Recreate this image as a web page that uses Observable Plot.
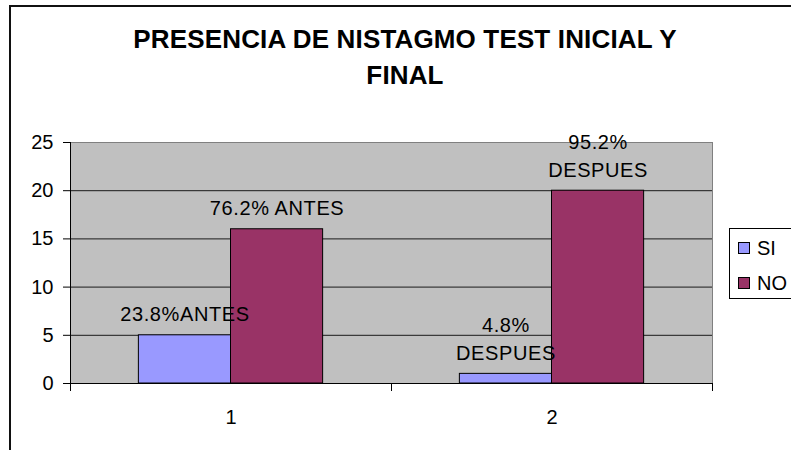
<!DOCTYPE html>
<html>
<head>
<meta charset="utf-8">
<script src="https://cdn.jsdelivr.net/npm/d3@7"></script>
<script src="https://cdn.jsdelivr.net/npm/@observablehq/plot@0.6"></script>
<style>
  html, body { margin: 0; padding: 0; background: #fff; }
  #wrap { position: relative; width: 791px; height: 450px; overflow: hidden; font-family: "Liberation Sans", Arial, sans-serif; }
  #outer { position: absolute; left: 9px; top: 5px; width: 900px; height: 600px; border-left: 2px solid #111; border-top: 2px solid #111; }
  #title { position: absolute; left: 0; top: 21px; width: 810px; text-align: center; font-weight: bold; font-size: 26px; line-height: 36px; letter-spacing: 0.15px; color: #000; }
  #chart { position: absolute; left: 0; top: 0; }
  #legend { position: absolute; left: 729px; top: 228px; width: 90px; height: 69px; border: 1px solid #000; background: #fff; }
  .sw { position: absolute; left: 8px; width: 10px; height: 10px; border: 1px solid #000; }
  .lt { position: absolute; left: 27px; font-size: 20px; line-height: 20px; color: #000; }
  #chart g.lbl text { letter-spacing: 0.6px; }
</style>
</head>
<body>
<div id="wrap">
  <div id="outer"></div>
  <div id="chart"></div>
  <div id="title"></div>
  <div id="legend"></div>
</div>
<script>
// ---- data ----
const titleLines = ["PRESENCIA DE NISTAGMO TEST INICIAL Y", "FINAL"];
const groups = [1, 2];
const series = ["SI", "NO"];
const colors = ["#9999FF", "#993366"];
const siValues = [5, 1];
const noValues = [16, 20];
const siLabels = ["23.8%ANTES", "4.8%\nDESPUES"];
const noLabels = ["76.2% ANTES", "95.2%\nDESPUES"];
const yTicks = [0, 5, 10, 15, 20, 25];

const data = [];
groups.forEach((g, i) => {
  data.push({group: g, series: "SI", value: siValues[i], label: siLabels[i]});
  data.push({group: g, series: "NO", value: noValues[i], label: noLabels[i]});
});

const barW = 0.287; // bar width in category units (style)
const x1 = d => d.series === "SI" ? d.group - barW : d.group;
const x2 = d => d.series === "SI" ? d.group : d.group + barW;
const xc = d => (x1(d) + x2(d)) / 2;

const chart = Plot.plot({
  width: 791,
  height: 450,
  marginLeft: 70,
  marginRight: 79,
  marginTop: 142,
  marginBottom: 67,
  style: {fontFamily: "'Liberation Sans', Arial, sans-serif", fontSize: "20px", background: "transparent", color: "#000", overflow: "visible"},
  x: {type: "linear", domain: [groups[0] - 0.5, groups[groups.length - 1] + 0.5], axis: null},
  y: {domain: [0, 25], axis: null},
  color: {domain: series, range: colors},
  marks: [
    Plot.frame({fill: "#C0C0C0", stroke: "#808080"}),
    Plot.ruleY(yTicks.filter(v => v > 0 && v < 25), {stroke: "#1a1a1a", strokeWidth: 1}),
    Plot.rectY(data, {x1, x2, y1: 0, y2: "value", fill: "series", stroke: "#000", strokeWidth: 1}),
    Plot.ruleX([groups[0] - 0.5], {y1: 0, y2: 25, stroke: "#000"}),
    Plot.ruleY([0], {stroke: "#000"}),
    Plot.axisY({ticks: yTicks, tickSize: 7, tickPadding: 10, tickFormat: d => d, label: null}),
    Plot.axisX({ticks: [0.5, 1.5, 2.5], tickSize: 8, tickFormat: () => "", label: null}),
    Plot.axisX({ticks: groups, tickSize: 0, tickPadding: 26, tickFormat: d => d, label: null}),
    Plot.text(data, {x: xc, y: "value", text: "label", lineAnchor: "bottom", dy: -14, lineHeight: 1.38, fontSize: 20, fill: "#000", className: "lbl"})
  ]
});
document.getElementById("chart").appendChild(chart);

document.getElementById("title").innerHTML = titleLines.join("<br>");

const legend = document.getElementById("legend");
series.forEach((s, i) => {
  const sw = document.createElement("div");
  sw.className = "sw";
  sw.style.top = (13 + i * 35) + "px";
  sw.style.background = colors[i];
  legend.appendChild(sw);
  const t = document.createElement("div");
  t.className = "lt";
  t.style.top = (9 + i * 35) + "px";
  t.textContent = s;
  legend.appendChild(t);
});
</script>
</body>
</html>
